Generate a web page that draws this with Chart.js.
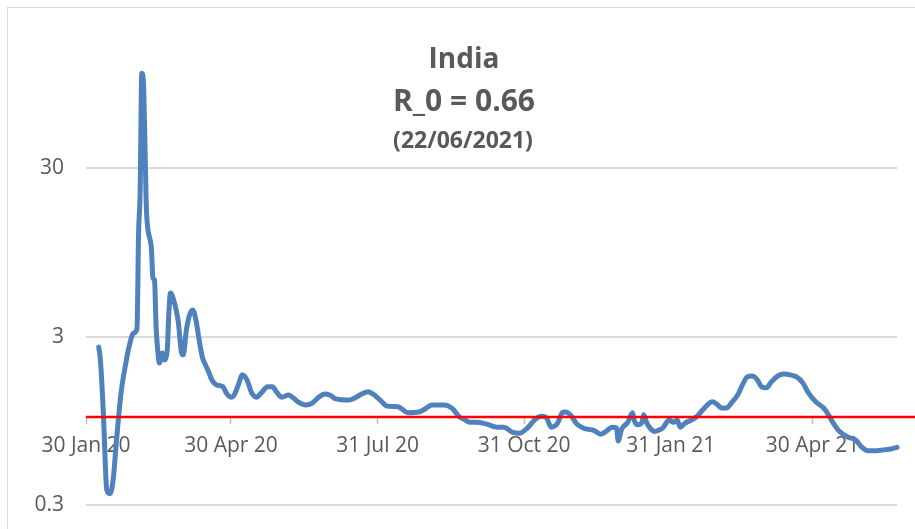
<!DOCTYPE html>
<html>
<head>
<meta charset="utf-8">
<script src="https://cdn.jsdelivr.net/npm/chart.js@4/dist/chart.umd.min.js"></script>
<style>
    html, body { margin: 0; padding: 0; background: #ffffff; }
    .wrap { width: 915px; height: 529px; position: relative; }
</style>
</head>
<body>
<div class="wrap"><canvas id="chart"></canvas></div>
<script>
// days since 30 Jan 2020
const dayOffsets = [
    8, 9, 11, 12, 13, 15, 17, 19, 22, 25, 27, 30, 32, 33, 34, 35, 36, 37, 38, 41,
    42, 43, 44, 45, 46, 48, 49, 51, 52, 53, 55, 57, 58, 60, 61, 63, 65, 67, 69, 71,
    73, 75, 77, 79, 82, 86, 88, 91, 93, 96, 98, 101, 104, 107, 110, 114, 117, 120, 123, 127,
    130, 133, 138, 142, 146, 150, 153, 157, 165, 169, 173, 177, 180, 185, 189, 196, 198, 202, 209, 213,
    217, 225, 230, 234, 238, 241, 245, 251, 258, 262, 268, 272, 277, 282, 286, 289, 292, 296, 299, 301,
    304, 308, 312, 319, 323, 327, 330, 333, 334, 336, 337, 340, 343, 344, 346, 349, 350, 352, 354, 357,
    360, 362, 366, 369, 371, 373, 376, 379, 383, 387, 390, 393, 396, 399, 402, 405, 409, 412, 415, 418,
    421, 424, 427, 430, 434, 438, 442, 446, 450, 453, 458, 463, 466, 469, 473, 478, 483, 487, 491, 496,
    502, 505, 509
];

// reproduction number R
const rValues = [
    2.6, 2.2, 1.0, 0.56, 0.37, 0.35, 0.42, 0.70, 1.39, 2.09, 2.61, 3.16, 3.33, 12.4, 22, 110, 100, 42, 16.3, 10.2,
    6.7, 6.5, 3.43, 2.5, 2.09, 2.40, 2.18, 2.50, 4.15, 5.45, 4.96, 4.15, 3.62, 2.40, 2.34, 3.29, 4.04, 4.32, 3.77, 2.87,
    2.27, 2.04, 1.85, 1.66, 1.55, 1.51, 1.39, 1.31, 1.35, 1.59, 1.78, 1.66, 1.39, 1.31, 1.39, 1.51, 1.51, 1.39, 1.31, 1.35,
    1.30, 1.23, 1.18, 1.21, 1.31, 1.37, 1.35, 1.28, 1.26, 1.30, 1.37, 1.41, 1.37, 1.25, 1.16, 1.15, 1.12, 1.06, 1.07, 1.12,
    1.18, 1.18, 1.12, 1.01, 0.96, 0.93, 0.93, 0.91, 0.87, 0.87, 0.81, 0.80, 0.86, 0.97, 1.01, 0.99, 0.87, 0.92, 1.06, 1.07,
    1.03, 0.91, 0.86, 0.83, 0.79, 0.83, 0.87, 0.86, 0.72, 0.84, 0.87, 0.93, 1.06, 0.96, 0.90, 0.93, 1.03, 0.92, 0.86, 0.82,
    0.84, 0.86, 0.96, 0.93, 0.96, 0.87, 0.92, 0.95, 1.00, 1.10, 1.18, 1.23, 1.19, 1.13, 1.13, 1.21, 1.35, 1.55, 1.73, 1.75,
    1.68, 1.51, 1.49, 1.61, 1.75, 1.80, 1.78, 1.73, 1.59, 1.41, 1.23, 1.13, 1.03, 0.92, 0.82, 0.76, 0.73, 0.66, 0.63, 0.63,
    0.64, 0.645, 0.66
];

const tickDays = [0, 91, 183, 275, 367, 456];
const tickLabels = ['30 Jan 20', '30 Apr 20', '31 Jul 20', '31 Oct 20', '31 Jan 21', '30 Apr 21'];
const yTicks = [0.3, 3, 30, 300];
const titleLines = ['India', 'R_0 = 0.66', '(22/06/2021)'];
const lastDay = 509;

const textColor = '#595959';

// frame, red R = 1 line and the title block
const decorPlugin = {
    id: 'decor',
    beforeDraw(chart) {
        const ctx = chart.ctx;
        ctx.save();
        ctx.fillStyle = '#ffffff';
        ctx.fillRect(0, 0, chart.width, chart.height);
        ctx.strokeStyle = '#d9d9d9';
        ctx.lineWidth = 1;
        ctx.strokeRect(7.5, 7.5, chart.width + 10, chart.height + 10);
        ctx.restore();
    },
    afterDatasetsDraw(chart) {
        const ctx = chart.ctx;
        const y = chart.scales.y.getPixelForValue(1);
        ctx.save();
        ctx.strokeStyle = '#ff0000';
        ctx.lineWidth = 2.5;
        ctx.beginPath();
        ctx.moveTo(chart.chartArea.left, y);
        ctx.lineTo(chart.width, y);
        ctx.stroke();
        ctx.restore();
    },
    afterDraw(chart) {
        const ctx = chart.ctx;
        ctx.save();
        ctx.fillStyle = textColor;
        ctx.textAlign = 'center';
        ctx.textBaseline = 'middle';
        ctx.font = 'bold 28px "Open Sans"';
        ctx.fillText(titleLines[0], 464, 60);
        ctx.font = 'bold 30px "Open Sans"';
        ctx.fillText(titleLines[1], 464, 102);
        ctx.font = 'bold 23px "Open Sans"';
        ctx.fillText(titleLines[2], 463, 141);
        ctx.restore();
    }
};

const points = dayOffsets.map((d, i) => ({ x: d, y: rValues[i] }));

new Chart(document.getElementById('chart'), {
    type: 'line',
    data: {
        datasets: [{
            data: points,
            borderColor: '#4f81bd',
            borderWidth: 5,
            pointRadius: 0,
            cubicInterpolationMode: 'monotone',
            borderJoinStyle: 'round',
            borderCapStyle: 'round',
            clip: false
        }]
    },
    options: {
        responsive: true,
        maintainAspectRatio: false,
        animation: false,
        layout: { padding: { top: 0, right: 18, bottom: 24, left: 0 } },
        plugins: {
            legend: { display: false },
            tooltip: { enabled: false },
            title: { display: false }
        },
        scales: {
            x: {
                type: 'linear',
                min: 0,
                max: lastDay,
                position: { y: 1 },
                afterBuildTicks: (axis) => {
                    axis.ticks = tickDays.map(v => ({ value: v }));
                },
                grid: {
                    drawOnChartArea: false,
                    drawTicks: true,
                    tickLength: 7,
                    tickColor: '#bfbfbf',
                    tickWidth: 1.5
                },
                border: { display: false },
                ticks: {
                    autoSkip: false,
                    maxRotation: 0,
                    padding: 9,
                    color: textColor,
                    font: { family: 'Open Sans', size: 21 },
                    callback: (v) => {
                        const i = tickDays.indexOf(v);
                        return i >= 0 ? tickLabels[i] : '';
                    }
                }
            },
            y: {
                type: 'logarithmic',
                min: 0.3,
                max: 300,
                position: 'left',
                afterBuildTicks: (axis) => {
                    axis.ticks = yTicks.map(v => ({ value: v }));
                },
                afterFit: (scale) => {
                    scale.width = 86;
                    scale.paddingTop = 0;
                    scale.paddingBottom = 0;
                },
                grid: {
                    drawTicks: false,
                    lineWidth: 2,
                    color: (c) => (c.tick && c.tick.value === 300) ? 'rgba(0,0,0,0)' : '#d9d9d9'
                },
                border: { display: false },
                ticks: {
                    padding: 22,
                    color: textColor,
                    font: { family: 'Open Sans', size: 21 },
                    callback: (v) => v === 300 ? '' : String(v)
                }
            }
        }
    },
    plugins: [decorPlugin]
});
</script>
</body>
</html>
